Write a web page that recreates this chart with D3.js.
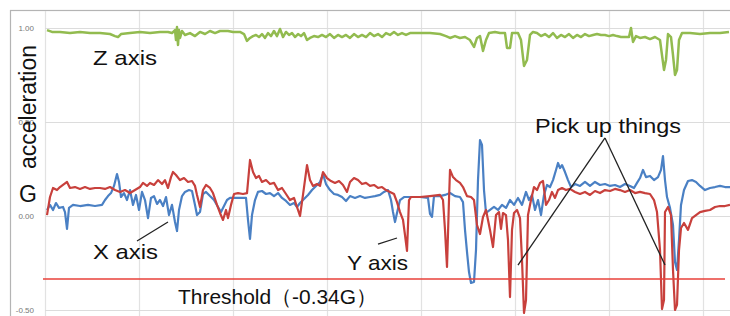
<!DOCTYPE html>
<html><head><meta charset="utf-8">
<script src="https://cdn.jsdelivr.net/npm/d3@7/dist/d3.min.js"></script>
<style>html,body{margin:0;padding:0;background:#fff;overflow:hidden}</style>
</head><body><svg id="c" width="730" height="316"></svg>
<script>
// sample index (t) and acceleration in G
const yTicks = [1.0, 0.5, 0.0, -0.5];
const yTickLabels = ["1.00", "0.50", "0.00", "-0.50"];
const xGridTicks = [0, 94, 188, 282, 376, 470, 564, 658];
const threshold = -0.335;

const zAxis = [[2,0.989],[7,0.979],[15,0.979],[25,0.973],[35,0.979],[45,0.973],[55,0.973],[65,0.968],[70,0.957],[73,0.952],[76,0.968],[85,0.973],[95,0.979],[105,0.973],[115,0.979],[123,0.979],[127,0.973],[130,0.989],[131,0.936],[132,1.005],[133,0.910],[134,0.989],[135,0.947],[137,0.984],[140,0.963],[145,0.973],[150,0.957],[155,0.979],[160,0.968],[165,0.984],[170,0.973],[175,0.984],[183,0.984],[188,0.979],[195,0.979],[199,0.968],[202,0.931],[205,0.947],[208,0.957],[211,0.963],[214,0.952],[217,0.968],[220,0.947],[223,0.973],[226,0.957],[229,0.984],[232,0.957],[235,0.995],[238,0.952],[241,0.979],[244,0.963],[247,0.973],[250,0.952],[253,0.968],[256,0.957],[259,0.973],[262,0.936],[265,0.947],[269,0.957],[273,0.952],[277,0.963],[281,0.952],[285,0.968],[289,0.947],[293,0.963],[297,0.952],[301,0.963],[305,0.947],[309,0.968],[313,0.952],[317,0.963],[321,0.952],[325,0.973],[329,0.957],[333,0.968],[337,0.952],[341,0.973],[345,0.963],[349,0.979],[353,0.963],[357,0.973],[361,0.963],[365,0.973],[375,0.973],[385,0.973],[395,0.968],[401,0.957],[405,0.947],[410,0.957],[415,0.947],[420,0.952],[425,0.936],[429,0.899],[432,0.947],[435,0.957],[438,0.878],[441,0.936],[444,0.973],[450,0.979],[455,0.973],[460,0.973],[462,0.894],[465,0.894],[467,0.973],[473,0.973],[476,0.936],[479,0.798],[482,0.830],[485,0.963],[488,0.979],[492,0.973],[496,0.957],[500,0.968],[504,0.952],[508,0.973],[512,0.947],[516,0.963],[520,0.952],[524,0.968],[528,0.947],[532,0.963],[536,0.952],[540,0.968],[544,0.957],[548,0.963],[552,0.968],[556,0.963],[560,0.963],[564,0.957],[568,0.963],[572,0.957],[576,0.952],[584,0.952],[586,1.000],[588,0.926],[591,0.957],[595,0.947],[600,0.952],[605,0.941],[610,0.952],[615,0.936],[617,0.856],[619,0.777],[621,0.830],[623,0.968],[626,0.952],[628,0.856],[630,0.750],[632,0.777],[634,0.936],[637,0.973],[645,0.973],[655,0.968],[665,0.973],[675,0.973],[684,0.979]];

const yAxis = [[2,0.005],[5,0.101],[8,0.149],[12,0.138],[15,0.154],[19,0.170],[22,0.181],[25,0.149],[30,0.154],[35,0.144],[40,0.154],[45,0.144],[50,0.149],[55,0.149],[60,0.144],[65,0.154],[70,0.138],[75,0.128],[80,0.138],[85,0.122],[90,0.138],[95,0.154],[98,0.176],[102,0.160],[105,0.176],[109,0.165],[113,0.191],[117,0.170],[120,0.191],[123,0.149],[126,0.207],[128,0.234],[131,0.218],[135,0.191],[139,0.202],[143,0.181],[147,0.186],[150,0.160],[152,0.112],[155,0.048],[158,0.138],[161,0.165],[165,0.149],[168,0.122],[172,0.059],[175,0.016],[178,-0.021],[181,0.032],[183,-0.011],[186,0.059],[189,0.117],[193,0.122],[198,0.117],[202,0.122],[205,0.298],[208,0.234],[211,0.202],[214,0.213],[217,0.181],[221,0.191],[225,0.170],[229,0.176],[233,0.138],[237,0.149],[241,0.117],[245,0.085],[249,0.096],[252,0.048],[255,0.000],[258,0.112],[262,0.271],[265,0.191],[268,0.160],[272,0.170],[275,0.160],[278,0.234],[282,0.202],[286,0.186],[290,0.176],[294,0.186],[298,0.165],[302,0.128],[305,0.181],[309,0.202],[313,0.191],[317,0.170],[321,0.176],[325,0.160],[329,0.165],[333,0.149],[337,0.154],[341,0.138],[345,0.128],[349,0.117],[352,0.074],[355,0.021],[358,-0.021],[360,-0.101],[362,-0.186],[364,0.085],[366,0.101],[375,0.101],[385,0.106],[395,0.112],[398,0.085],[400,-0.074],[402,-0.271],[404,0.085],[405,0.245],[408,0.207],[411,0.191],[415,0.176],[418,0.154],[422,0.106],[426,0.101],[429,0.085],[432,-0.048],[435,-0.096],[438,-0.005],[441,0.032],[445,-0.074],[448,-0.165],[451,0.005],[454,0.021],[456,-0.069],[458,0.016],[461,0.005],[463,-0.128],[465,-0.431],[467,-0.074],[469,0.016],[472,0.032],[475,-0.011],[477,-0.234],[479,-0.516],[481,-0.447],[483,0.005],[486,0.085],[489,0.154],[492,0.138],[495,0.176],[498,0.186],[501,0.059],[504,0.085],[507,0.128],[510,0.096],[513,0.138],[517,0.149],[521,0.138],[525,0.144],[530,0.128],[535,0.117],[540,0.128],[545,0.112],[550,0.133],[555,0.122],[560,0.138],[565,0.133],[570,0.144],[575,0.138],[580,0.128],[585,0.138],[590,0.122],[595,0.128],[600,0.122],[605,0.117],[609,0.085],[612,0.021],[615,-0.181],[617,-0.495],[619,-0.447],[620,0.021],[623,0.048],[626,0.005],[628,-0.287],[630,-0.500],[632,-0.473],[634,-0.181],[636,-0.064],[639,-0.037],[643,-0.074],[647,-0.011],[651,0.005],[655,0.021],[660,0.027],[665,0.032],[670,0.048],[675,0.053],[680,0.053],[685,0.059]];

const xAxis = [[2,0.032],[5,0.059],[8,0.032],[11,0.069],[14,0.043],[18,0.048],[20,0.021],[22,-0.069],[24,0.043],[28,0.059],[35,0.053],[43,0.059],[50,0.053],[57,0.059],[60,0.085],[63,0.106],[66,0.122],[69,0.160],[72,0.223],[74,0.181],[76,0.101],[79,0.122],[82,0.085],[85,0.138],[88,0.059],[91,0.112],[94,0.032],[97,0.128],[100,0.085],[103,-0.011],[106,0.096],[109,0.106],[112,0.064],[115,0.085],[118,0.053],[121,0.101],[124,0.005],[127,0.059],[130,-0.032],[132,-0.080],[134,0.032],[137,0.106],[140,0.128],[144,0.138],[147,0.133],[150,0.059],[152,0.005],[155,0.021],[158,0.117],[161,0.128],[165,0.106],[169,0.085],[173,0.048],[176,0.021],[179,0.053],[182,0.085],[185,0.096],[193,0.096],[201,0.096],[203,-0.021],[205,-0.122],[207,0.005],[210,0.085],[213,0.128],[217,0.133],[221,0.117],[225,0.122],[229,0.106],[233,0.122],[237,0.096],[241,0.080],[245,0.059],[249,0.069],[252,0.048],[255,0.069],[259,0.090],[263,0.112],[267,0.138],[271,0.160],[275,0.181],[278,0.223],[281,0.170],[285,0.138],[289,0.117],[293,0.112],[297,0.101],[301,0.080],[305,0.106],[310,0.096],[315,0.106],[320,0.096],[325,0.101],[330,0.106],[335,0.112],[339,0.128],[343,0.138],[346,0.085],[348,0.021],[350,-0.032],[352,0.016],[355,0.085],[359,0.101],[365,0.101],[375,0.101],[383,0.096],[385,0.011],[387,-0.005],[389,0.106],[395,0.106],[400,0.112],[405,0.122],[410,0.106],[415,0.101],[418,0.074],[420,-0.074],[422,-0.191],[424,-0.298],[426,-0.356],[429,-0.351],[431,-0.181],[433,0.191],[435,0.404],[437,0.378],[439,0.138],[441,0.016],[445,0.032],[449,0.048],[453,0.032],[457,0.059],[461,0.043],[465,0.085],[469,0.059],[473,0.096],[477,0.059],[481,0.128],[484,0.085],[487,0.112],[490,0.032],[493,0.085],[496,0.005],[499,0.112],[502,0.165],[505,0.154],[508,0.191],[511,0.245],[513,0.282],[515,0.255],[517,0.271],[520,0.234],[523,0.191],[526,0.154],[530,0.170],[535,0.160],[540,0.181],[545,0.160],[550,0.181],[555,0.165],[560,0.170],[565,0.160],[570,0.165],[575,0.154],[580,0.170],[585,0.160],[589,0.149],[592,0.176],[595,0.202],[598,0.245],[601,0.207],[605,0.213],[609,0.191],[613,0.207],[616,0.245],[618,0.319],[620,0.191],[622,0.101],[625,0.043],[628,-0.048],[630,-0.245],[632,-0.287],[634,-0.128],[636,0.059],[639,0.138],[643,0.186],[647,0.191],[651,0.181],[655,0.160],[660,0.138],[665,0.149],[670,0.154],[675,0.160],[680,0.154],[685,0.154]];

const labels = ["Z axis", "X axis", "Y axis", "Threshold（-0.34G）", "Pick up things"];

// ---- drawing ----
const svg = d3.select("#c");
const x = d3.scaleLinear().domain([0, 686]).range([45, 731]);
const y = d3.scaleLinear().domain([-0.5, 1.0]).range([310, 28]);
const font = "'Liberation Sans', Arial, sans-serif";

// outer chart frame
svg.append("rect").attr("x", 10.5).attr("y", 10.5).attr("width", 740).attr("height", 340)
  .attr("fill", "none").attr("stroke", "#b4b4b4").attr("stroke-width", 1.2);

// gridlines
svg.append("g").selectAll("line").data(xGridTicks).join("line")
  .attr("x1", d => Math.round(x(d)) + 0.5).attr("x2", d => Math.round(x(d)) + 0.5)
  .attr("y1", 11).attr("y2", 316).attr("stroke", "#e2e2e2").attr("stroke-width", 1.2);
svg.append("g").selectAll("line").data(yTicks).join("line")
  .attr("x1", x(0)).attr("x2", 730)
  .attr("y1", d => Math.round(y(d)) + 0.5).attr("y2", d => Math.round(y(d)) + 0.5)
  .attr("stroke", "#dcdcdc").attr("stroke-width", 1.2);

// tick labels
svg.append("g").selectAll("text").data(yTicks).join("text")
  .attr("x", 34).attr("y", d => y(d) + 3)
  .attr("text-anchor", "end").attr("font-family", font).attr("font-size", 8)
  .attr("fill", "#777").text((d, i) => yTickLabels[i]);

// series
const line = d3.line().x(d => x(d[0])).y(d => y(d[1]));
svg.append("path").datum(zAxis).attr("d", line).attr("fill", "none")
  .attr("stroke", "#92bb4f").attr("stroke-width", 2.5).attr("stroke-linejoin", "round");
svg.append("path").datum(xAxis).attr("d", line).attr("fill", "none")
  .attr("stroke", "#4a80c4").attr("stroke-width", 2.2).attr("stroke-linejoin", "round");
svg.append("path").datum(yAxis).attr("d", line).attr("fill", "none")
  .attr("stroke", "#c8403c").attr("stroke-width", 2.2).attr("stroke-linejoin", "round");

// threshold
svg.append("line").attr("x1", 43).attr("x2", 725)
  .attr("y1", y(threshold)).attr("y2", y(threshold))
  .attr("stroke", "#e8403a").attr("stroke-width", 1.6);

// axis titles
svg.append("text").attr("transform", "translate(36,107) rotate(-90)")
  .attr("text-anchor", "middle").attr("font-family", font).attr("font-size", 23)
  .attr("fill", "#111").text("acceleration");
svg.append("text").attr("x", 19).attr("y", 202)
  .attr("font-family", font).attr("font-size", 23).attr("fill", "#111").text("G");

// annotations (anchored in data space)
const ann = [
  {t: 48, v: 0.803, w: 64},
  {t: 48, v: -0.229, w: 65},
  {t: 302, v: -0.287, w: 61},
  {t: 133, v: -0.468, w: 199},
  {t: 490, v: 0.441, w: 146}
];
svg.append("g").selectAll("text").data(ann).join("text")
  .attr("x", d => x(d.t)).attr("y", d => y(d.v))
  .attr("font-family", font).attr("font-size", 21).attr("fill", "#111")
  .attr("textLength", d => d.w).attr("lengthAdjust", "spacingAndGlyphs")
  .text((d, i) => labels[i]);

const leaders = [
  [[92, -0.133], [123, -0.032]],
  [[333, -0.149], [352, -0.117]],
  [[473, -0.261], [560, 0.415]],
  [[560, 0.415], [620, -0.261]]
];
svg.append("g").selectAll("line").data(leaders).join("line")
  .attr("x1", d => x(d[0][0])).attr("y1", d => y(d[0][1]))
  .attr("x2", d => x(d[1][0])).attr("y2", d => y(d[1][1]))
  .attr("stroke", "#222").attr("stroke-width", 1.3);
</script></body></html>
